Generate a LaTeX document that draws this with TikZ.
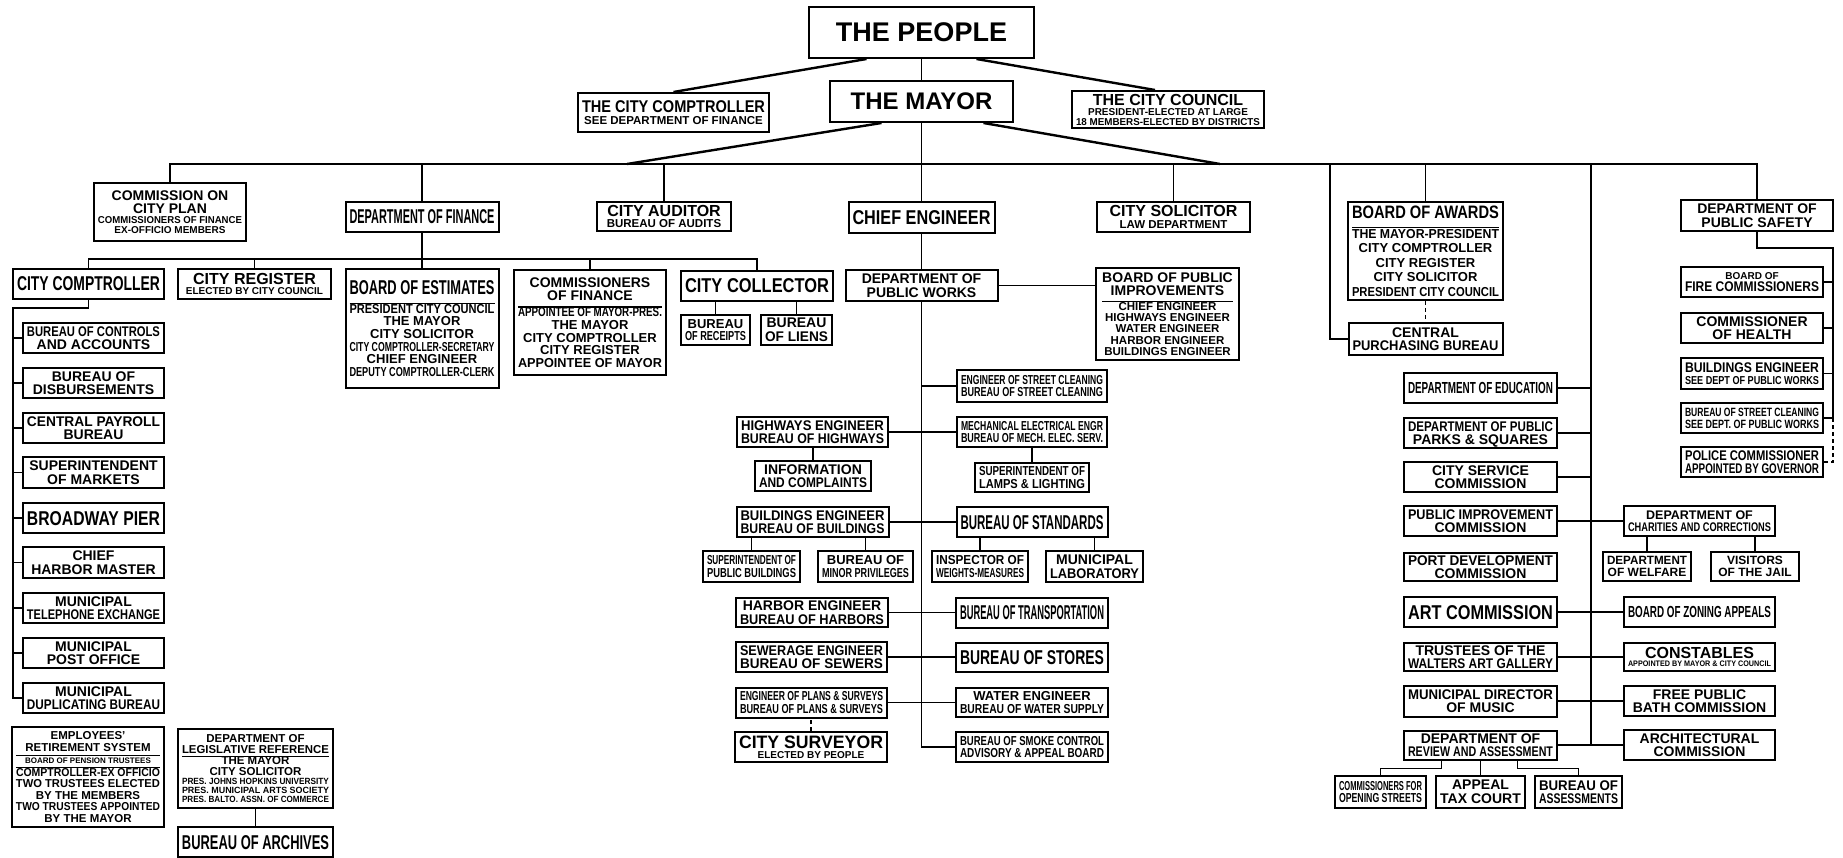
\documentclass[tikz,border=0pt]{standalone}
\usepackage{fontspec}
\setmainfont{Liberation Sans}
\usepackage{graphicx}
\usepackage{array}

% lettering sizes
\newcommand\fA{\fontsize{27}{27}\bfseries}
\newcommand\fB{\fontsize{24}{24}\bfseries}
\newcommand\fS{\fontsize{20}{20}\bfseries}
\newcommand\fT{\fontsize{16}{16}\bfseries}
\newcommand\fD{\fontsize{14}{13}\bfseries}
\newcommand\fL{\fontsize{13}{12}\bfseries}
\newcommand\fE{\fontsize{11.5}{11.5}\bfseries}
\newcommand\fF{\fontsize{10}{10}\bfseries}
\newcommand\fG{\fontsize{8}{8}\bfseries}

\setlength\arrayrulewidth{1.2pt}
\newsavebox\lblbox
\newsavebox\rowbox
% each line squeezed sideways when wider than the box
\newcommand\fitrow{\ifdim\wd\rowbox>\lblw pt\resizebox{\lblw pt}{\height}{\usebox\rowbox}\else\usebox\rowbox\fi}
\newcommand\lbl[1]{%
  \sbox\lblbox{\begin{tabular}[b]{@{}>{\begin{lrbox}{\rowbox}}c<{\end{lrbox}\fitrow}@{}}#1\end{tabular}}%
  \dp\lblbox=0pt
  \usebox\lblbox}

\begin{document}
\begin{tikzpicture}[x=1pt,y=-1pt,
  box/.style={draw,line width=2pt,inner sep=0pt,fill=white,font=\fD},
  bw/.style={minimum width=#1,/utils/exec={\pgfmathsetmacro\lblw{#1-8}}},
  bh/.style={minimum height=#1},
  link/.style={line width=1.6pt},
  bus/.style={line width=2.4pt},
  dotline/.style={line width=1.6pt,dash pattern=on 4pt off 3pt}]
	\useasboundingbox (0,0) rectangle (1843,858);
	% top of the chart
	\node[box,bw=225,bh=51,font=\fA] (people) at (921.5,32.5) {\lbl{THE PEOPLE}};
	\node[box,bw=183,bh=41,font=\fB] (mayor) at (921.5,101.5) {\lbl{THE MAYOR}};
	\node[box,bw=191,bh=39,font=\fE] (ccomp) at (673.5,112.5) {\lbl{\fontsize{17}{17}\bfseries THE CITY COMPTROLLER\\SEE DEPARTMENT OF FINANCE}};
	\node[box,bw=192,bh=37,font=\fF] (council) at (1168,109.5) {\lbl{\fT THE CITY COUNCIL\\PRESIDENT-ELECTED AT LARGE\\18 MEMBERS-ELECTED BY DISTRICTS}};
	% departments under the mayor
	\node[box,bw=152,bh=58,font=\fF] (cplan) at (170,212) {\lbl{\fD COMMISSION ON\\\fD CITY PLAN\\COMMISSIONERS OF FINANCE\\EX-OFFICIO MEMBERS}};
	\node[box,bw=153,bh=30,font=\fS] (finance) at (422,217) {\lbl{DEPARTMENT OF FINANCE}};
	\node[box,bw=134,bh=29,font=\fE] (auditor) at (664,216.5) {\lbl{\fT CITY AUDITOR\\BUREAU OF AUDITS}};
	\node[box,bw=146,bh=31,font=\fS] (chief) at (921.5,217.5) {\lbl{CHIEF ENGINEER}};
	\node[box,bw=153,bh=30,font=\fE] (solicitor) at (1173.5,217) {\lbl{\fT CITY SOLICITOR\\LAW DEPARTMENT}};
	\node[box,bw=155,bh=98,font={\fontsize{13}{14.5}\bfseries}] (awards) at (1425.5,251) {\lbl{\fontsize{18}{18}\bfseries BOARD OF AWARDS\\[4pt]\hline THE MAYOR-PRESIDENT\\CITY COMPTROLLER\\CITY REGISTER\\CITY SOLICITOR\\PRESIDENT CITY COUNCIL}};
	\node[box,bw=154,bh=32] (purchasing) at (1425.5,339) {\lbl{CENTRAL\\PURCHASING BUREAU}};
	\node[box,bw=152,bh=31] (safety) at (1757,215.5) {\lbl{DEPARTMENT OF\\PUBLIC SAFETY}};
	% public safety
	\node[box,bw=142,bh=30,font=\fF] (fire) at (1752,282) {\lbl{BOARD OF\\\fD FIRE COMMISSIONERS}};
	\node[box,bw=142,bh=30] (health) at (1752,328) {\lbl{COMMISSIONER\\OF HEALTH}};
	\node[box,bw=142,bh=31,font=\fE] (bldgsee) at (1752,373.5) {\lbl{\fD BUILDINGS ENGINEER\\SEE DEPT OF PUBLIC WORKS}};
	\node[box,bw=142,bh=30,font={\fontsize{12}{12}\bfseries}] (cleansee) at (1752,418) {\lbl{BUREAU OF STREET CLEANING\\SEE DEPT. OF PUBLIC WORKS}};
	\node[box,bw=142,bh=30] (police) at (1752,462) {\lbl{POLICE COMMISSIONER\\APPOINTED BY GOVERNOR}};
	% boards and commissions
	\node[box,bw=153,bh=30,font=\fT] (education) at (1480.5,388) {\lbl{DEPARTMENT OF EDUCATION}};
	\node[box,bw=153,bh=30] (parks) at (1480.5,433) {\lbl{DEPARTMENT OF PUBLIC\\PARKS \& SQUARES}};
	\node[box,bw=153,bh=30] (civil) at (1480.5,477) {\lbl{CITY SERVICE\\COMMISSION}};
	\node[box,bw=153,bh=30] (pubimp) at (1480.5,521) {\lbl{PUBLIC IMPROVEMENT\\COMMISSION}};
	\node[box,bw=153,bh=28] (port) at (1480.5,567) {\lbl{PORT DEVELOPMENT\\COMMISSION}};
	\node[box,bw=153,bh=30,font=\fS] (art) at (1480.5,612) {\lbl{ART COMMISSION}};
	\node[box,bw=153,bh=28] (walters) at (1480.5,657) {\lbl{TRUSTEES OF THE\\WALTERS ART GALLERY}};
	\node[box,bw=153,bh=31] (music) at (1480.5,701) {\lbl{MUNICIPAL DIRECTOR\\OF MUSIC}};
	\node[box,bw=153,bh=29] (review) at (1480.5,745) {\lbl{DEPARTMENT OF\\REVIEW AND ASSESSMENT}};
	\node[box,bw=151,bh=30,font={\fontsize{12.5}{12.5}\bfseries}] (charities) at (1699.5,521) {\lbl{DEPARTMENT OF\\CHARITIES AND CORRECTIONS}};
	\node[box,bw=88,bh=29,font={\fontsize{12}{12}\bfseries}] (welfare) at (1647,566.5) {\lbl{DEPARTMENT\\OF WELFARE}};
	\node[box,bw=88,bh=29,font={\fontsize{12}{12}\bfseries}] (jail) at (1755,566.5) {\lbl{VISITORS\\OF THE JAIL}};
	\node[box,bw=151,bh=30,font=\fT] (zoning) at (1699.5,612) {\lbl{BOARD OF ZONING APPEALS}};
	\node[box,bw=151,bh=28,font=\fG] (constables) at (1699.5,657) {\lbl{\fT CONSTABLES\\APPOINTED BY MAYOR \& CITY COUNCIL}};
	\node[box,bw=151,bh=30] (bath) at (1699.5,701) {\lbl{FREE PUBLIC\\BATH COMMISSION}};
	\node[box,bw=151,bh=30] (architect) at (1699.5,745) {\lbl{ARCHITECTURAL\\COMMISSION}};
	\node[box,bw=91,bh=32,font=\fL] (openst) at (1380.5,792) {\lbl{COMMISSIONERS FOR\\OPENING STREETS}};
	\node[box,bw=89,bh=32] (taxcourt) at (1480.5,792) {\lbl{APPEAL\\TAX COURT}};
	\node[box,bw=87,bh=32] (assess) at (1578.5,792) {\lbl{BUREAU OF\\ASSESSMENTS}};
	% public works
	\node[box,bw=152,bh=31] (pworks) at (921.5,285.5) {\lbl{DEPARTMENT OF\\PUBLIC WORKS}};
	\node[box,bw=143,bh=92,font={\fontsize{11.5}{11}\bfseries}] (bpi) at (1167.5,314) {\lbl{\fD BOARD OF PUBLIC\\\fD IMPROVEMENTS\\[2pt]\hline CHIEF ENGINEER\\HIGHWAYS ENGINEER\\WATER ENGINEER\\HARBOR ENGINEER\\BUILDINGS ENGINEER}};
	\node[box,bw=150,bh=32,font=\fL] (cleaning) at (1032,386) {\lbl{ENGINEER OF STREET CLEANING\\BUREAU OF STREET CLEANING}};
	\node[box,bw=151,bh=30] (highways) at (812.5,432) {\lbl{HIGHWAYS ENGINEER\\BUREAU OF HIGHWAYS}};
	\node[box,bw=150,bh=30,font=\fL] (mech) at (1032,432) {\lbl{MECHANICAL ELECTRICAL ENGR\\BUREAU OF MECH. ELEC. SERV.}};
	\node[box,bw=116,bh=30] (info) at (813,476) {\lbl{INFORMATION\\AND COMPLAINTS}};
	\node[box,bw=114,bh=29,font=\fL] (lamps) at (1032,477.5) {\lbl{SUPERINTENDENT OF\\LAMPS \& LIGHTING}};
	\node[box,bw=152,bh=30] (buildings) at (812.5,522) {\lbl{BUILDINGS ENGINEER\\BUREAU OF BUILDINGS}};
	\node[box,bw=151,bh=30,font=\fS] (standards) at (1032,522) {\lbl{BUREAU OF STANDARDS}};
	\node[box,bw=97,bh=31,font=\fL] (pubbldg) at (751.5,566.5) {\lbl{SUPERINTENDENT OF\\PUBLIC BUILDINGS}};
	\node[box,bw=95,bh=31,font=\fL] (minor) at (865.5,566.5) {\lbl{BUREAU OF\\MINOR PRIVILEGES}};
	\node[box,bw=96,bh=31,font=\fL] (weights) at (980,566.5) {\lbl{INSPECTOR OF\\WEIGHTS-MEASURES}};
	\node[box,bw=97,bh=31] (lab) at (1094.5,566.5) {\lbl{MUNICIPAL\\LABORATORY}};
	\node[box,bw=152,bh=29] (harbors) at (812,612.5) {\lbl{HARBOR ENGINEER\\BUREAU OF HARBORS}};
	\node[box,bw=152,bh=30,font=\fS] (transport) at (1032,612.5) {\lbl{BUREAU OF TRANSPORTATION}};
	\node[box,bw=151,bh=30] (sewers) at (811.5,657) {\lbl{SEWERAGE ENGINEER\\BUREAU OF SEWERS}};
	\node[box,bw=152,bh=29,font=\fS] (stores) at (1032,657) {\lbl{BUREAU OF STORES}};
	\node[box,bw=151,bh=30,font=\fL] (plans) at (811.5,702.5) {\lbl{ENGINEER OF PLANS \& SURVEYS\\BUREAU OF PLANS \& SURVEYS}};
	\node[box,bw=152,bh=29,font=\fL] (water) at (1032,702.5) {\lbl{WATER ENGINEER\\BUREAU OF WATER SUPPLY}};
	\node[box,bw=152,bh=30,font=\fF] (surveyor) at (811,747) {\lbl{\fontsize{18}{18}\bfseries CITY SURVEYOR\\ELECTED BY PEOPLE}};
	\node[box,bw=152,bh=30,font=\fL] (smoke) at (1032,747) {\lbl{BUREAU OF SMOKE CONTROL\\ADVISORY \& APPEAL BOARD}};
	% finance
	\node[box,bw=151,bh=30,font=\fS] (comptroller) at (88.5,284) {\lbl{CITY COMPTROLLER}};
	\node[box,bw=153,bh=30,font=\fF] (register) at (254.5,284) {\lbl{\fT CITY REGISTER\\ELECTED BY CITY COUNCIL}};
	\node[box,bw=153,bh=119,font=\fL] (estimates) at (422,328.5) {\lbl{\fS BOARD OF ESTIMATES\\[5pt]\hline PRESIDENT CITY COUNCIL\\THE MAYOR\\CITY SOLICITOR\\CITY COMPTROLLER-SECRETARY\\CHIEF ENGINEER\\DEPUTY COMPTROLLER-CLERK}};
	\node[box,bw=152,bh=105,font=\fL] (commfin) at (590,322.5) {\lbl{\fD COMMISSIONERS\\\fD OF FINANCE\\[2pt]\hline APPOINTEE OF MAYOR-PRES.\\THE MAYOR\\CITY COMPTROLLER\\CITY REGISTER\\APPOINTEE OF MAYOR}};
	\node[box,bw=152,bh=30,font=\fS] (collector) at (757,286) {\lbl{CITY COLLECTOR}};
	\node[box,bw=69,bh=30,font=\fL] (receipts) at (715.5,330) {\lbl{BUREAU\\OF RECEIPTS}};
	\node[box,bw=71,bh=30] (liens) at (796.5,330) {\lbl{BUREAU\\OF LIENS}};
	\node[box,bw=141,bh=30] (controls) at (93.5,338) {\lbl{BUREAU OF CONTROLS\\AND ACCOUNTS}};
	\node[box,bw=141,bh=30] (disburse) at (93.5,383) {\lbl{BUREAU OF\\DISBURSEMENTS}};
	\node[box,bw=141,bh=30] (payroll) at (93.5,428) {\lbl{CENTRAL PAYROLL\\BUREAU}};
	\node[box,bw=141,bh=31] (markets) at (93.5,472.5) {\lbl{SUPERINTENDENT\\OF MARKETS}};
	\node[box,bw=141,bh=30,font=\fS] (pier) at (93.5,518) {\lbl{BROADWAY PIER}};
	\node[box,bw=141,bh=31] (harbormaster) at (93.5,562.5) {\lbl{CHIEF\\HARBOR MASTER}};
	\node[box,bw=141,bh=30] (telephone) at (93.5,608) {\lbl{MUNICIPAL\\TELEPHONE EXCHANGE}};
	\node[box,bw=141,bh=30] (postoffice) at (93.5,653) {\lbl{MUNICIPAL\\POST OFFICE}};
	\node[box,bw=141,bh=30] (duplicating) at (93.5,698) {\lbl{MUNICIPAL\\DUPLICATING BUREAU}};
	\node[box,bw=152,bh=100,font={\fontsize{11.5}{11.5}\bfseries}] (retirement) at (88,777) {\lbl{EMPLOYEES'\\RETIREMENT SYSTEM\\\hline\fG BOARD OF PENSION TRUSTEES\\\hline COMPTROLLER-EX OFFICIO\\TWO TRUSTEES ELECTED\\BY THE MEMBERS\\TWO TRUSTEES APPOINTED\\BY THE MAYOR}};
	\node[box,bw=155,bh=79,font={\fontsize{9}{9}\bfseries}] (legis) at (255.5,768.5) {\lbl{\fE DEPARTMENT OF\\\fE LEGISLATIVE REFERENCE\\\hline\fE THE MAYOR\\\fE CITY SOLICITOR\\PRES. JOHNS HOPKINS UNIVERSITY\\PRES. MUNICIPAL ARTS SOCIETY\\PRES. BALTO. ASSN. OF COMMERCE}};
	\node[box,bw=155,bh=30,font=\fS] (archives) at (255.5,842) {\lbl{BUREAU OF ARCHIVES}};
	% connectors at the top
	\coordinate (bus) at (921.5,164);
	\coordinate (tapL) at (627,164);
	\coordinate (tapR) at (1220,164);
	\coordinate (tapP) at (1330,164);
	\coordinate (tapC) at (1591,164);
	\draw[link] (people.south) -- (mayor.north);
	\draw[bus] ([xshift=-55]people.south) -- (ccomp.north);
	\draw[bus] ([xshift=55]people.south) -- ([xshift=-13]council.north);
	\draw[bus] ([xshift=-40]mayor.south) -- (tapL);
	\draw[bus] ([xshift=62]mayor.south) -- (tapR);
	\draw[bus] (cplan.north) |- (bus) -| (safety.north);
	\draw[link] (mayor.south) -- (chief.north);
	\draw[link] (finance.north) -- (finance.north |- bus);
	\draw[link] (auditor.north) -- (auditor.north |- bus);
	\draw[link] (solicitor.north) -- (solicitor.north |- bus);
	\draw[link] (awards.north) -- (awards.north |- bus);
	\draw[link] (tapP) |- (purchasing.west);
	\draw[dotline] (awards.south) -- (purchasing.north);
	% boards and commissions
	\draw[link] (tapC) -- (tapC |- review.east);
	\draw[link] (education.east) -- (education.east -| tapC);
	\draw[link] (parks.east) -- (parks.east -| tapC);
	\draw[link] (civil.east) -- (civil.east -| tapC);
	\draw[link] (pubimp.east) -- (charities.west);
	\draw[link] (art.east) -- (zoning.west);
	\draw[link] (walters.east) -- (constables.west);
	\draw[link] (music.east) -- (bath.west);
	\draw[link] (review.east) -- (architect.west);
	\draw[link] (welfare.north) -- (welfare.north |- charities.south);
	\draw[link] (jail.north) -- (jail.north |- charities.south);
	\draw[link] ([xshift=-39]review.south) -- ++(0,8) -| (openst.north);
	\draw[link] (review.south) -- (taxcourt.north);
	\draw[link] ([xshift=37]review.south) -- ++(0,8) -| (assess.north);
	% public safety
	\coordinate (srail) at (1833,248);
	\draw[link] (safety.south) |- (srail) -- (srail |- cleansee.east);
	\draw[dotline] (srail |- cleansee.east) -- (srail |- police.east) -- (police.east);
	\draw[link] (fire.east) -- (fire.east -| srail);
	\draw[link] (health.east) -- (health.east -| srail);
	\draw[link] (bldgsee.east) -- (bldgsee.east -| srail);
	\draw[link] (cleansee.east) -- (cleansee.east -| srail);
	% public works
	\draw[link] (chief.south) -- (pworks.north);
	\draw[link] (pworks.east) -- (pworks.east -| bpi.west);
	\draw[line width=1.8pt] (pworks.south) |- (smoke.west);
	\draw[bus] (cleaning.west) -- (cleaning.west -| pworks.south);
	\draw[link] (highways.east) -- (mech.west);
	\draw[link] (buildings.east) -- (standards.west);
	\draw[link] (harbors.east) -- (transport.west);
	\draw[link] (sewers.east) -- (stores.west);
	\draw[link] (plans.east) -- (water.west);
	\draw[link] (info.north) -- (info.north |- highways.south);
	\draw[link] (lamps.north) -- (lamps.north |- mech.south);
	\draw[link] (pubbldg.north) -- (pubbldg.north |- buildings.south);
	\draw[link] (minor.north) -- (minor.north |- buildings.south);
	\draw[link] (weights.north) -- (weights.north |- standards.south);
	\draw[link] (lab.north) -- (lab.north |- standards.south);
	\draw[dotline] (surveyor.north) -- (surveyor.north |- plans.south);
	% finance
	\coordinate (fbus) at (422,259);
	\coordinate (crail) at (13,308);
	\draw[link] (finance.south) -- (estimates.north);
	\draw[link] (comptroller.north) |- (fbus) -| (collector.north);
	\draw[link] (register.north) -- (register.north |- fbus);
	\draw[link] (commfin.north) -- (commfin.north |- fbus);
	\draw[link] (receipts.north) -- (receipts.north |- collector.south);
	\draw[link] (liens.north) -- (liens.north |- collector.south);
	\draw[link] (comptroller.south) |- (crail) |- (duplicating.west);
	\draw[link] (controls.west) -- (controls.west -| crail);
	\draw[link] (disburse.west) -- (disburse.west -| crail);
	\draw[link] (payroll.west) -- (payroll.west -| crail);
	\draw[link] (markets.west) -- (markets.west -| crail);
	\draw[link] (pier.west) -- (pier.west -| crail);
	\draw[link] (harbormaster.west) -- (harbormaster.west -| crail);
	\draw[link] (telephone.west) -- (telephone.west -| crail);
	\draw[link] (postoffice.west) -- (postoffice.west -| crail);
	\draw[link] (legis.south) -- (archives.north);
\end{tikzpicture}
\end{document}
